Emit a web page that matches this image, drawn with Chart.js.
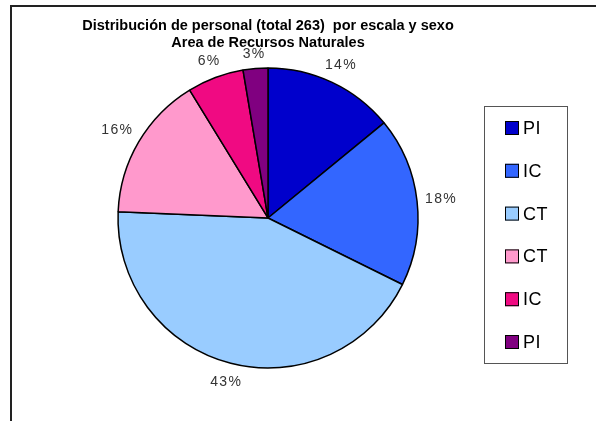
<!DOCTYPE html>
<html lang="es">
<head>
    <meta charset="UTF-8">
    <title>Distribución de personal</title>
    <style>
        html, body {
            margin: 0;
            padding: 0;
            background-color: #ffffff;
            overflow: hidden;
        }
        canvas {
            display: block;
        }
    </style>
</head>
<body>
    <canvas id="pieChart" width="596" height="421"></canvas>

    <script src="https://cdn.jsdelivr.net/npm/chart.js"></script>
    <script>
        // datos: escala de cada porción y número de personas (total 263)
        const categories = ['PI', 'IC', 'CT', 'CT', 'IC', 'PI'];
        const staffCounts = [37, 48, 114, 41, 16, 7];
        const titleLines = ['Distribución de personal (total 263)  por escala y sexo', 'Area de Recursos Naturales'];

        const sliceColors = ['#0000CC', '#3366FF', '#99CCFF', '#FF99CC', '#F00A82', '#800080'];

        // marco exterior del gráfico (como en Excel)
        const frame = {
            id: 'frame',
            beforeDraw(chart) {
                const ctx = chart.ctx;
                ctx.save();
                ctx.strokeStyle = '#222222';
                ctx.lineWidth = 2;
                ctx.strokeRect(11, 6, 700, 500);
                ctx.restore();
            }
        };

        // etiquetas de porcentaje fuera de cada porción (caja de texto a 7px del borde)
        const pctLabels = {
            id: 'pctLabels',
            afterDatasetsDraw(chart) {
                const ctx = chart.ctx;
                const meta = chart.getDatasetMeta(0);
                const values = chart.data.datasets[0].data;
                const total = values.reduce((a, b) => a + b, 0);
                ctx.save();
                ctx.font = '14px "Liberation Sans", Arial, sans-serif';
                ctx.letterSpacing = '1.3px';
                ctx.fillStyle = '#333333';
                ctx.textAlign = 'center';
                ctx.textBaseline = 'middle';
                meta.data.forEach((arc, i) => {
                    const p = arc.getProps(['x', 'y', 'startAngle', 'endAngle', 'outerRadius'], true);
                    const mid = (p.startAngle + p.endAngle) / 2;
                    const txt = Math.round(values[i] / total * 100) + '%';
                    const w = ctx.measureText(txt).width;
                    const c = Math.cos(mid), s = Math.sin(mid);
                    const r = p.outerRadius + 7.5 + Math.abs(c) * w / 2 + Math.abs(s) * 7;
                    ctx.fillText(txt, p.x + c * r, p.y + s * r + 1);
                });
                ctx.restore();
            }
        };

        // leyenda con recuadro a la derecha
        const boxLegend = {
            id: 'boxLegend',
            afterDraw(chart) {
                const ctx = chart.ctx;
                const ds = chart.data.datasets[0];
                ctx.save();
                ctx.strokeStyle = '#555555';
                ctx.lineWidth = 1;
                ctx.strokeRect(484.5, 106.5, 83, 257);
                ctx.font = '18px "Liberation Sans", Arial, sans-serif';
                ctx.letterSpacing = '0.6px';
                ctx.textAlign = 'left';
                ctx.textBaseline = 'middle';
                chart.data.labels.forEach((lbl, i) => {
                    const y = 128 + i * 42.8;
                    ctx.fillStyle = ds.backgroundColor[i];
                    ctx.fillRect(505, y - 7, 14, 14);
                    ctx.strokeStyle = '#000000';
                    ctx.strokeRect(505.5, y - 6.5, 13, 13);
                    ctx.fillStyle = '#000000';
                    ctx.fillText(lbl, 523, y + 1);
                });
                ctx.restore();
            }
        };

        const chart = new Chart(document.getElementById('pieChart'), {
            type: 'pie',
            data: {
                labels: categories,
                datasets: [{
                    data: staffCounts,
                    backgroundColor: sliceColors,
                    borderColor: '#000000',
                    borderWidth: 1.5
                }]
            },
            options: {
                responsive: false,
                devicePixelRatio: 1,
                animation: false,
                events: [],
                radius: 150,
                layout: {
                    padding: { top: 8, bottom: 53, left: 42, right: 102 }
                },
                plugins: {
                    legend: { display: false },
                    tooltip: { enabled: false },
                    title: {
                        display: true,
                        text: titleLines,
                        color: '#000000',
                        font: { family: '"Liberation Sans", Arial, sans-serif', size: 14.5, weight: 'bold', lineHeight: 1.17 },
                        padding: { top: 9.5, bottom: 16.5 }
                    }
                }
            },
            plugins: [frame, pctLabels, boxLegend]
        });
    </script>
</body>
</html>
